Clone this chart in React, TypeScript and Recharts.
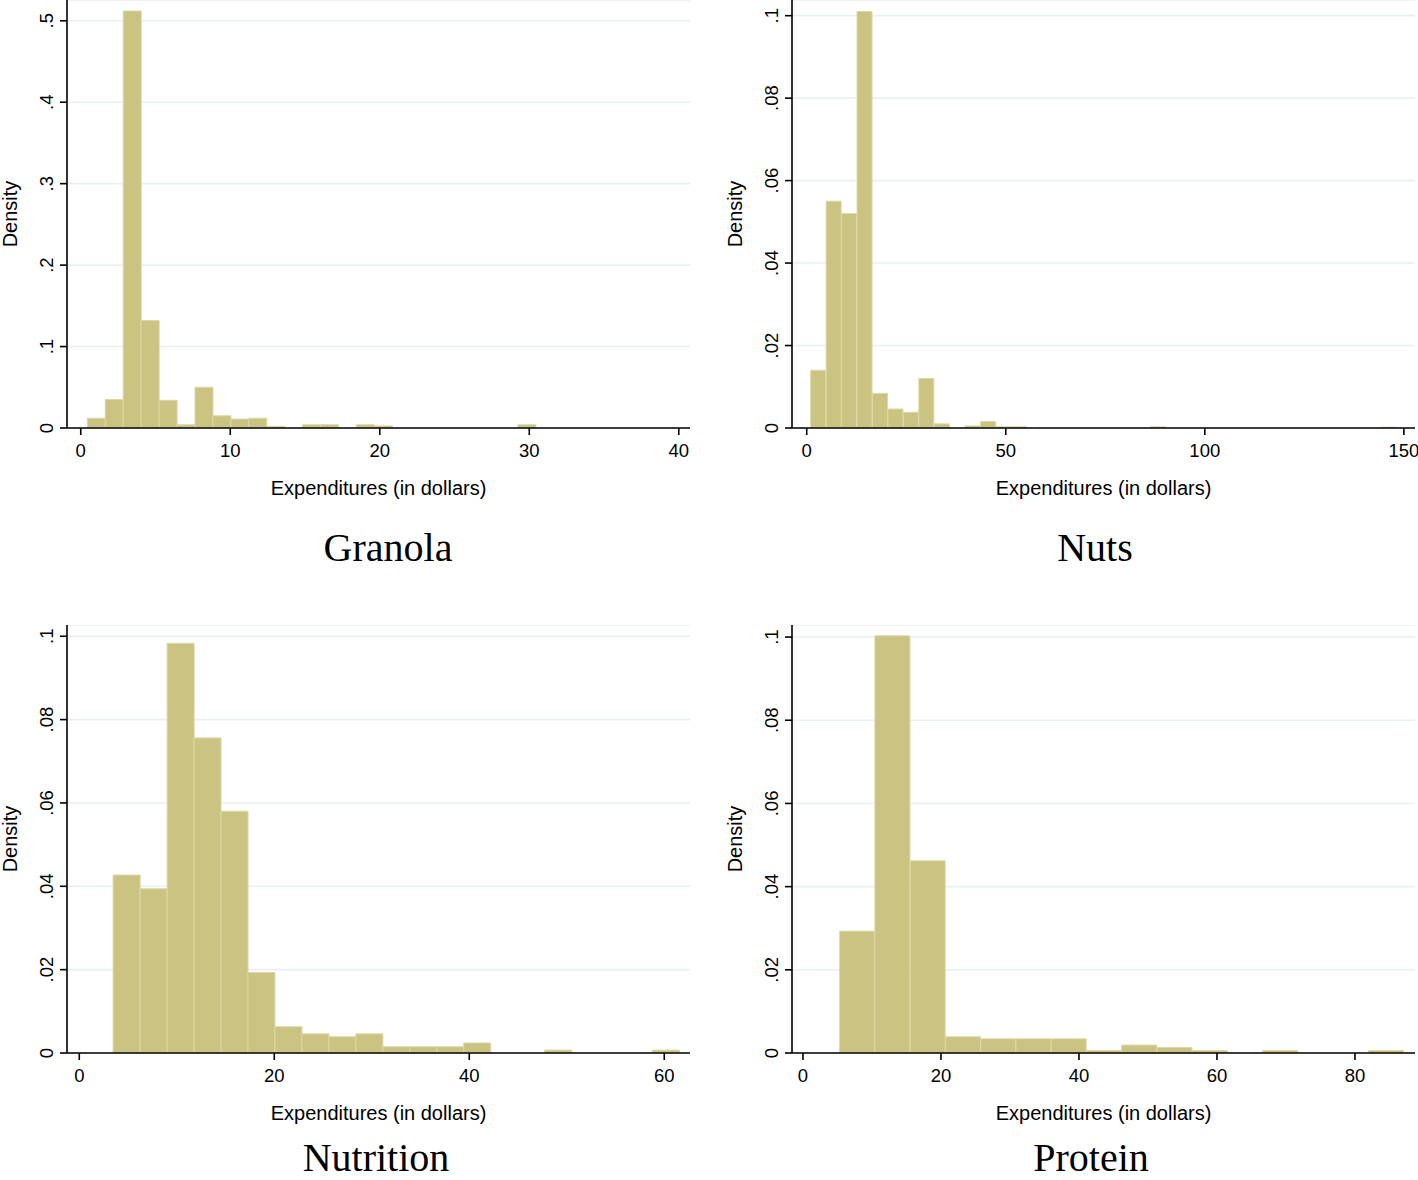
import { Bar, BarChart, CartesianGrid, Label, XAxis, YAxis } from "recharts";

// bin midpoints (dollars) and densities
const granolaBins = [1.04, 2.24, 3.44, 4.64, 5.84, 7.04, 8.24, 9.44, 10.64, 11.84, 13.04, 14.24, 15.44, 16.64, 17.84, 19.04, 20.24, 21.44, 22.64, 23.84, 25.04, 26.24, 27.44, 28.64, 29.84];
const granolaDensity = [0.012, 0.035, 0.512, 0.132, 0.034, 0.004, 0.05, 0.015, 0.011, 0.012, 0.002, 0, 0.004, 0.004, 0, 0.004, 0.0025, 0, 0, 0, 0, 0, 0, 0, 0.004];

const nutsBins = [2.94, 6.82, 10.7, 14.58, 18.46, 22.34, 26.22, 30.1, 33.98, 37.86, 41.74, 45.62, 49.5, 53.38, 57.26, 61.14, 65.02, 68.9, 72.78, 76.66, 80.54, 84.42, 88.3, 92.18, 96.06, 99.94, 103.82, 107.7, 111.58, 115.46, 119.34, 123.22, 127.1, 130.98, 134.86, 138.74, 142.62, 146.5];
const nutsDensity = [0.014, 0.055, 0.052, 0.101, 0.0084, 0.0046, 0.0038, 0.012, 0.001, 0, 0.0005, 0.0016, 0.0003, 0.0003, 0, 0, 0, 0, 0, 0, 0, 0, 0.0003, 0, 0, 0, 0, 0, 0, 0, 0, 0, 0, 0, 0, 0, 0, 0.0002];

const nutritionBins = [4.85, 7.62, 10.39, 13.15, 15.92, 18.68, 21.45, 24.22, 26.98, 29.75, 32.51, 35.28, 38.05, 40.81, 43.58, 46.34, 49.11, 51.88, 54.64, 57.41, 60.17];
const nutritionDensity = [0.0427, 0.0394, 0.0983, 0.0756, 0.058, 0.0193, 0.0063, 0.0046, 0.0039, 0.0046, 0.0015, 0.0015, 0.0015, 0.0024, 0, 0, 0.0007, 0, 0, 0, 0.0007];

const proteinBins = [7.87, 12.98, 18.09, 23.2, 28.31, 33.42, 38.53, 43.64, 48.75, 53.86, 58.97, 64.08, 69.19, 74.3, 79.41, 84.52];
const proteinDensity = [0.0293, 0.1003, 0.0462, 0.0039, 0.0034, 0.0034, 0.0034, 0.0006, 0.0019, 0.0013, 0.0006, 0, 0.0006, 0, 0, 0.0006];

const granolaXTicks = [0, 10, 20, 30, 40];
const nutsXTicks = [0, 50, 100, 150];
const nutritionXTicks = [0, 20, 40, 60];
const proteinXTicks = [0, 20, 40, 60, 80];

const granolaYTicks = [0, 0.1, 0.2, 0.3, 0.4, 0.5];
const smallYTicks = [0, 0.02, 0.04, 0.06, 0.08, 0.1];

const SANS = "'Liberation Sans', Arial, Helvetica, sans-serif";
const SERIF = "'Liberation Serif', 'Times New Roman', serif";
const FILL = "#cac381";
const EDGE = "#dcd7a6";
const GRID = "#e9f0f2";

const fmtY = (v: number) => (v === 0 ? "0" : String(v).replace(/^0/, ""));

function XTick(props: any) {
  const { x, y, payload } = props;
  return (
    <text x={x} y={y + 20} textAnchor="middle" fontSize={18.5} fontFamily={SANS} fill="#000">
      {payload.value}
    </text>
  );
}

function YTick(props: any) {
  const { x, y, payload } = props;
  const bx = x - 5;
  return (
    <text x={bx} y={y} transform={`rotate(-90, ${bx}, ${y})`} textAnchor="middle" fontSize={18.5} fontFamily={SANS} fill="#000">
      {fmtY(payload.value)}
    </text>
  );
}

type HistProps = {
  left: number;
  top: number;
  width: number;
  bins: number[];
  density: number[];
  xDomain: [number, number];
  xTicks: number[];
  yMax: number;
  yTicks: number[];
};

function Histogram({ left, top, width, bins, density, xDomain, xTicks, yMax, yTicks }: HistProps) {
  const data = bins.map((b, i) => ({ x: b, d: density[i] }));
  return (
    <div style={{ position: "absolute", left, top }}>
      <BarChart
        width={width}
        height={510}
        data={data}
        margin={{ top: 0, right: width - 690, bottom: 0, left: 0 }}
        barCategoryGap={0}
        barGap={0}
      >
        <CartesianGrid horizontal vertical={false} stroke={GRID} strokeWidth={1.6} />
        <XAxis
          dataKey="x"
          type="number"
          domain={xDomain}
          allowDataOverflow
          ticks={xTicks}
          interval={0}
          height={82}
          tickSize={7}
          tick={<XTick />}
          axisLine={{ stroke: "#000", strokeWidth: 1.6 }}
          tickLine={{ stroke: "#000", strokeWidth: 1.6 }}
        >
          <Label value="Expenditures (in dollars)" position="insideBottom" offset={15.5} fontSize={20} fontFamily={SANS} fill="#000" />
        </XAxis>
        <YAxis
          type="number"
          domain={[0, yMax]}
          allowDataOverflow
          ticks={yTicks}
          interval={0}
          width={67}
          tickSize={7}
          tick={<YTick />}
          axisLine={{ stroke: "#000", strokeWidth: 1.6 }}
          tickLine={{ stroke: "#000", strokeWidth: 1.6 }}
        >
          <Label
            value="Density"
            angle={-90}
            position="insideLeft"
            offset={9.5}
            fontSize={20}
            fontFamily={SANS}
            fill="#000"
            style={{ textAnchor: "middle" }}
          />
        </YAxis>
        <Bar dataKey="d" fill={FILL} stroke={EDGE} strokeWidth={1} isAnimationActive={false} />
      </BarChart>
    </div>
  );
}

export default function App() {
  return (
    <div style={{ position: "absolute", left: 0, top: 0, width: 1418, height: 1180, background: "#fff", overflow: "hidden" }}>
      <Histogram left={0} top={0} width={700} bins={granolaBins} density={granolaDensity} xDomain={[-0.92, 40.75]} xTicks={granolaXTicks} yMax={0.5255} yTicks={granolaYTicks} />
      <Histogram left={725} top={0} width={693} bins={nutsBins} density={nutsDensity} xDomain={[-3.7, 152.8]} xTicks={nutsXTicks} yMax={0.1038} yTicks={smallYTicks} />
      <Histogram left={0} top={625} width={700} bins={nutritionBins} density={nutritionDensity} xDomain={[-1.26, 62.64]} xTicks={nutritionXTicks} yMax={0.1027} yTicks={smallYTicks} />
      <Histogram left={725} top={625} width={693} bins={proteinBins} density={proteinDensity} xDomain={[-1.59, 88.7]} xTicks={proteinXTicks} yMax={0.1029} yTicks={smallYTicks} />
      <svg width={1418} height={1180} style={{ position: "absolute", left: 0, top: 0, pointerEvents: "none" }}>
        <text x={388} y={561} textAnchor="middle" fontSize={40} fontFamily={SERIF} fill="#000">Granola</text>
        <text x={1095} y={561} textAnchor="middle" fontSize={40} fontFamily={SERIF} fill="#000">Nuts</text>
        <text x={376} y={1171} textAnchor="middle" fontSize={40} fontFamily={SERIF} fill="#000">Nutrition</text>
        <text x={1091} y={1171} textAnchor="middle" fontSize={40} fontFamily={SERIF} fill="#000">Protein</text>
      </svg>
    </div>
  );
}
